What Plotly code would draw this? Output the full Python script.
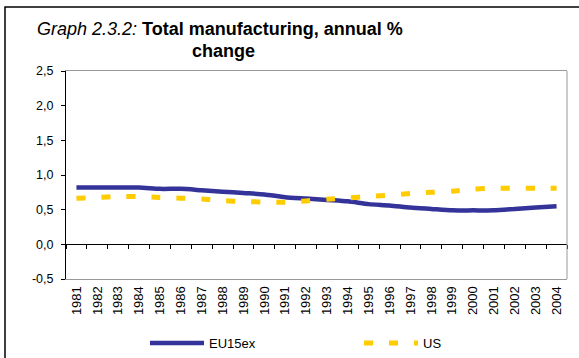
import plotly.graph_objects as go

years = list(range(1981, 2005))
eu15ex = [0.82, 0.82, 0.82, 0.82, 0.80, 0.80, 0.78, 0.76, 0.74, 0.72, 0.68, 0.66,
          0.64, 0.62, 0.58, 0.56, 0.53, 0.51, 0.49, 0.49, 0.49, 0.51, 0.53, 0.55]
us = [0.665, 0.675, 0.69, 0.69, 0.675, 0.665, 0.655, 0.63, 0.617, 0.61, 0.607, 0.626,
      0.65, 0.67, 0.69, 0.71, 0.735, 0.75, 0.765, 0.795, 0.81, 0.81, 0.81, 0.81]
ytick_vals = [-0.5, 0.0, 0.5, 1.0, 1.5, 2.0, 2.5]
ytick_text = ["-0,5", "0,0", "0,5", "1,0", "1,5", "2,0", "2,5"]
year_labels = [str(y) for y in years]

FONT = "Liberation Sans, Arial, sans-serif"
W, H = 579, 358
ML, MR, MT, MB = 66, 12, 71, 79
PW = W - ML - MR
PH = H - MT - MB

def px_x(p):
    return (p - ML) / PW

def px_y(p):
    return (H - MB - p) / PH

fig = go.Figure()
fig.add_trace(go.Scatter(x=years, y=eu15ex, name="EU15ex", mode="lines",
                         line=dict(color="#333399", width=4.5, shape="spline", smoothing=0.6)))
fig.add_trace(go.Scatter(x=years, y=us, name="US", mode="lines",
                         line=dict(color="#FFCC00", width=5, dash="9px,16px", shape="spline", smoothing=0.6)))
# helper trace to place the category tick axis at zero
fig.add_trace(go.Scatter(x=[years[0]], y=[None], xaxis="x2", showlegend=False,
                         hoverinfo="skip", mode="lines"))

xr = [years[0] - 0.5, years[-1] + 0.5]
boundaries = [y - 0.5 for y in years] + [years[-1] + 0.5]
ymin, ymax = ytick_vals[0], ytick_vals[-1]

fig.update_layout(
    width=W, height=H,
    margin=dict(l=ML, r=MR, t=MT, b=MB, pad=0, autoexpand=False),
    paper_bgcolor="white", plot_bgcolor="white",
    font=dict(family=FONT, size=12, color="black"),
    showlegend=True,
    legend=dict(orientation="h", x=px_x(145), xanchor="left", y=px_y(343), yanchor="middle",
                font=dict(size=13), entrywidth=145, entrywidthmode="pixels", itemwidth=54,
                bgcolor="rgba(0,0,0,0)", borderwidth=0, tracegroupgap=0),
    xaxis=dict(range=xr, tickmode="array", tickvals=years, ticktext=year_labels,
               tickangle=-90, ticks="", showgrid=False, zeroline=False, automargin=False,
               showline=True, linecolor="#999999", linewidth=1, mirror=True,
               tickfont=dict(size=13), ticklabelstandoff=1),
    xaxis2=dict(range=xr, overlaying="x", anchor="free", position=(0 - ymin) / (ymax - ymin),
                tickmode="array", tickvals=boundaries, ticks="outside", ticklen=4,
                tickcolor="black", tickwidth=1, showline=True, linecolor="black", linewidth=1,
                showticklabels=False, showgrid=False, zeroline=False, automargin=False),
    yaxis=dict(range=[ymin, ymax], tickmode="array", tickvals=ytick_vals, ticktext=ytick_text,
               ticks="outside", ticklen=4, tickcolor="black", showline=True, linecolor="black",
               linewidth=1, showgrid=False, zeroline=False, tickfont=dict(size=12.5),
               automargin=False, ticklabelstandoff=5),
    shapes=[
        dict(type="line", xref="paper", yref="paper", x0=1, x1=1, y0=0, y1=1,
             line=dict(color="#999999", width=1)),
        dict(type="rect", xref="paper", yref="paper", x0=px_x(5), y0=px_y(7),
             x1=px_x(600), y1=px_y(380), line=dict(color="black", width=1.5)),
    ],
    annotations=[
        dict(xref="paper", yref="paper", x=px_x(35), y=px_y(29), xanchor="left", yanchor="middle",
             showarrow=False,
             text="<i>Graph 2.3.2:</i> <b>Total manufacturing, annual %</b>",
             font=dict(size=18, family=FONT)),
        dict(xref="paper", yref="paper", x=px_x(190), y=px_y(51), xanchor="left", yanchor="middle",
             showarrow=False, text="<b>change</b>", font=dict(size=18, family=FONT)),
    ],
)

fig.write_html("out.html", config={"displayModeBar": False},
               post_script="document.body.style.margin='0';")
